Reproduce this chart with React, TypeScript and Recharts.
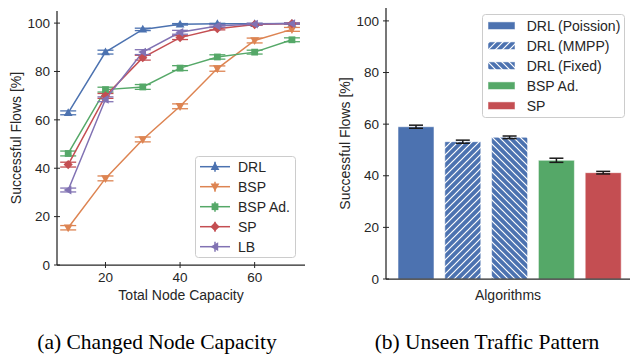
import React from 'react';
import {
  LineChart, Line, XAxis, YAxis, ErrorBar, Legend, BarChart, Bar, Cell,
} from 'recharts';

// ---------- Data: (a) Changed Node Capacity ----------
const capacities = [10, 20, 30, 40, 50, 60, 70];
const drl = [62.9, 88.0, 97.4, 99.5, 99.7, 99.7, 99.8];
const drlErr = [0.8, 0.8, 0.5, 0.3, 0.2, 0.2, 0.2];
const bsp = [15.4, 35.8, 51.9, 65.6, 81.2, 92.8, 97.4];
const bspErr = [0.9, 1.0, 1.0, 1.0, 1.1, 1.0, 0.8];
const bspAd = [46.1, 72.5, 73.6, 81.4, 86.0, 88.0, 93.1];
const bspAdErr = [1.0, 1.0, 1.0, 1.0, 0.9, 0.8, 0.8];
const sp = [41.5, 69.9, 85.7, 94.0, 97.7, 99.4, 99.8];
const spErr = [1.0, 1.0, 1.0, 0.8, 0.5, 0.3, 0.2];
const lb = [31.0, 68.5, 88.0, 96.2, 98.8, 99.6, 99.8];
const lbErr = [0.8, 1.0, 1.0, 0.8, 0.5, 0.3, 0.2];
const xTicks = [20, 40, 60];
const yTicks = [0, 20, 40, 60, 80, 100];

// ---------- Data: (b) Unseen Traffic Pattern ----------
const algorithms = ['DRL (Poission)', 'DRL (MMPP)', 'DRL (Fixed)', 'BSP Ad.', 'SP'];
const algoValues = [59.0, 53.2, 54.9, 46.0, 41.2];
const algoErrors = [0.6, 0.6, 0.5, 0.8, 0.5];

const C_BLUE = '#4C72B0';
const C_ORANGE = '#DD8452';
const C_GREEN = '#55A868';
const C_RED = '#C44E52';
const C_PURPLE = '#8172B3';
const AXIS = '#262626';
const FONT = '"Liberation Sans", Arial, sans-serif';
const FS = 14;
const TFS = 13.5;

type Shape = 'up' | 'down' | 'square' | 'diamond' | 'left';

const lineSeries: { key: string; name: string; color: string; shape: Shape; values: number[]; errs: number[] }[] = [
  { key: 'drl', name: 'DRL', color: C_BLUE, shape: 'up', values: drl, errs: drlErr },
  { key: 'bsp', name: 'BSP', color: C_ORANGE, shape: 'down', values: bsp, errs: bspErr },
  { key: 'bspAd', name: 'BSP Ad.', color: C_GREEN, shape: 'square', values: bspAd, errs: bspAdErr },
  { key: 'sp', name: 'SP', color: C_RED, shape: 'diamond', values: sp, errs: spErr },
  { key: 'lb', name: 'LB', color: C_PURPLE, shape: 'left', values: lb, errs: lbErr },
];

const lineData = capacities.map((c, i) => {
  const row: Record<string, number> = { cap: c };
  lineSeries.forEach((s) => {
    row[s.key] = s.values[i];
    row[s.key + 'Err'] = s.errs[i];
  });
  return row;
});

const barColors = [C_BLUE, 'url(#hatchMMPP)', 'url(#hatchFixed)', C_GREEN, C_RED];
const barData = algorithms.map((a, i) => ({ name: a, value: algoValues[i], err: algoErrors[i] }));

// ---------- Helpers ----------
function Marker({ cx, cy, shape, color }: { cx: number; cy: number; shape: Shape; color: string }) {
  if (cx == null || cy == null || isNaN(cx) || isNaN(cy)) return null;
  switch (shape) {
    case 'up':
      return <polygon points={`${cx},${cy - 4.6} ${cx - 4.4},${cy + 3.2} ${cx + 4.4},${cy + 3.2}`} fill={color} />;
    case 'down':
      return <polygon points={`${cx},${cy + 4.6} ${cx - 4.4},${cy - 3.2} ${cx + 4.4},${cy - 3.2}`} fill={color} />;
    case 'square':
      return <rect x={cx - 3.4} y={cy - 3.4} width={6.8} height={6.8} fill={color} />;
    case 'diamond':
      return <polygon points={`${cx},${cy - 4.6} ${cx + 4.6},${cy} ${cx},${cy + 4.6} ${cx - 4.6},${cy}`} fill={color} />;
    case 'left':
      return <polygon points={`${cx - 4.6},${cy} ${cx + 3.2},${cy - 4.4} ${cx + 3.2},${cy + 4.4}`} fill={color} />;
  }
  return null;
}

const TS = 3;
const TM = 4;

function LeftTick(props: any) {
  const { x, y, payload } = props;
  const ax = x + TS + TM;
  return (
    <g>
      <line x1={ax - TS} x2={ax + TS} y1={y} y2={y} stroke={AXIS} strokeWidth={1} />
      <text x={x} y={y} dy="0.35em" textAnchor="end" fontSize={TFS} fill={AXIS} fontFamily={FONT}>{payload.value}</text>
    </g>
  );
}
function BottomTick(props: any) {
  const { x, y, payload } = props;
  const ay = y - TS - TM;
  return (
    <g>
      <line x1={x} x2={x} y1={ay - TS} y2={ay + TS} stroke={AXIS} strokeWidth={1} />
      <text x={x} y={y} dy="0.71em" textAnchor="middle" fontSize={TFS} fill={AXIS} fontFamily={FONT}>{payload.value}</text>
    </g>
  );
}
function TopTick(props: any) {
  const { x, y } = props;
  const ay = y + TS + TM;
  return <line x1={x} x2={x} y1={ay - TS} y2={ay + TS} stroke={AXIS} strokeWidth={1} />;
}
function RightTick(props: any) {
  const { x, y } = props;
  const ax = x - TS - TM;
  return <line x1={ax - TS} x2={ax + TS} y1={y} y2={y} stroke={AXIS} strokeWidth={1} />;
}

function YTitle(props: any) {
  const vb = props.viewBox || {};
  const x = (vb.x ?? 0) - 1;
  const y = (vb.y ?? 0) + (vb.height ?? 0) / 2;
  return (
    <text
      x={x}
      y={y}
      transform={`rotate(-90 ${x} ${y})`}
      textAnchor="middle"
      dominantBaseline="central"
      fontSize={FS}
      fill={AXIS}
      fontFamily={FONT}
    >
      Successful Flows [%]
    </text>
  );
}

const axisLine = { stroke: AXIS, strokeWidth: 1.25 };

function LineLegend() {
  return (
    <svg width={101} height={102} style={{ display: 'block' }}>
      <rect x={0.5} y={0.5} width={100} height={101} rx={3} fill="rgba(255,255,255,0.85)" stroke="#cccccc" strokeWidth={1} />
      {lineSeries.map((s, i) => {
        const cy = 10.7 + 20 * i;
        return (
          <g key={s.key}>
            <line x1={5} x2={35} y1={cy} y2={cy} stroke={s.color} strokeWidth={1.5} />
            <line x1={20} x2={20} y1={cy - 5} y2={cy + 5} stroke={s.color} strokeWidth={1.5} />
            <Marker cx={20} cy={cy} shape={s.shape} color={s.color} />
            <text x={43} y={cy} dy="0.35em" fontSize={FS} fill={AXIS} fontFamily={FONT}>{s.name}</text>
          </g>
        );
      })}
    </svg>
  );
}

function BarLegend() {
  return (
    <svg width={143} height={104} style={{ display: 'block' }}>
      <defs>
        <pattern id="hatchMMPPL" patternUnits="userSpaceOnUse" width={7} height={7}>
          <rect width={7} height={7} fill={C_BLUE} />
          <path d="M0,7 L7,0 M-1,1 L1,-1 M6,8 L8,6" stroke="#ffffff" strokeWidth={1.2} />
        </pattern>
        <pattern id="hatchFixedL" patternUnits="userSpaceOnUse" width={7} height={7}>
          <rect width={7} height={7} fill={C_BLUE} />
          <path d="M0,0 L7,7 M-1,6 L1,8 M6,-1 L8,1" stroke="#ffffff" strokeWidth={1.2} />
        </pattern>
      </defs>
      <rect x={0.5} y={0.5} width={142} height={103} rx={3} fill="rgba(255,255,255,0.85)" stroke="#cccccc" strokeWidth={1} />
      {algorithms.map((a, i) => {
        const cy = 11.7 + 20 * i;
        const fill = i === 1 ? 'url(#hatchMMPPL)' : i === 2 ? 'url(#hatchFixedL)' : barColors[i];
        return (
          <g key={a}>
            <rect x={6} y={cy - 3.8} width={27} height={7.6} fill={fill} stroke="rgba(255,255,255,0.5)" strokeWidth={1} />
            <text x={44.7} y={cy} dy="0.35em" fontSize={FS} fill={AXIS} fontFamily={FONT}>{a}</text>
          </g>
        );
      })}
    </svg>
  );
}

export default function App() {
  return (
    <div style={{ position: 'absolute', left: 0, top: 0, width: 631, height: 356, overflow: 'hidden', background: '#fff', fontFamily: FONT }}>
      {/* (a) */}
      <div style={{ position: 'absolute', left: 0, top: 0 }}>
        <LineChart width={320} height={320} data={lineData} margin={{ top: 11, right: 15, bottom: 15, left: 17 }}>
          <XAxis
            dataKey="cap"
            type="number"
            domain={[7, 73.5]}
            ticks={xTicks}
            allowDataOverflow
            height={40}
            tickSize={TS}
            tickMargin={TM}
            tickLine={false}
            tick={BottomTick}
            axisLine={axisLine}
            label={{ value: 'Total Node Capacity', position: 'insideBottom', offset: 5.5, fontSize: FS, fill: AXIS, fontFamily: FONT }}
          />
          <XAxis
            xAxisId="top"
            orientation="top"
            dataKey="cap"
            type="number"
            domain={[7, 73.5]}
            ticks={xTicks}
            allowDataOverflow
            height={0}
            tickSize={TS}
            tickMargin={TM}
            tickLine={false}
            tick={TopTick}
            axisLine={axisLine}
          />
          <YAxis
            type="number"
            domain={[0, 105]}
            ticks={yTicks}
            allowDataOverflow
            width={40}
            tickSize={TS}
            tickMargin={TM}
            tickLine={false}
            tick={LeftTick}
            axisLine={axisLine}
            label={{ content: YTitle }}
          />
          <YAxis
            yAxisId="right"
            orientation="right"
            type="number"
            domain={[0, 105]}
            ticks={yTicks}
            allowDataOverflow
            width={0}
            tickSize={TS}
            tickMargin={TM}
            tickLine={false}
            tick={RightTick}
            axisLine={axisLine}
          />
          {lineSeries.map((s) => (
            <Line
              key={s.key}
              dataKey={s.key}
              name={s.name}
              type="linear"
              stroke={s.color}
              strokeWidth={1.5}
              isAnimationActive={false}
              activeDot={false}
              dot={(p: any) => <Marker key={`${s.key}-${p.index}`} cx={p.cx} cy={p.cy} shape={s.shape} color={s.color} />}
            >
              <ErrorBar dataKey={s.key + 'Err'} width={8} stroke={s.color} strokeWidth={1.3} direction="y" isAnimationActive={false} />
            </Line>
          ))}
          <Legend
            layout="horizontal"
            verticalAlign="middle"
            align="center"
            content={() => <LineLegend />}
            wrapperStyle={{ position: 'absolute', left: 195, top: 156, width: 101, height: 102 }}
          />
        </LineChart>
      </div>

      {/* (b) */}
      <div style={{ position: 'absolute', left: 320, top: 0 }}>
        <BarChart width={320} height={320} data={barData} margin={{ top: 8, right: 10, bottom: 13, left: 26 }}>
          <defs>
            <pattern id="hatchMMPP" patternUnits="userSpaceOnUse" width={7} height={7}>
              <rect width={7} height={7} fill={C_BLUE} />
              <path d="M0,7 L7,0 M-1,1 L1,-1 M6,8 L8,6" stroke="#ffffff" strokeWidth={1.2} />
            </pattern>
            <pattern id="hatchFixed" patternUnits="userSpaceOnUse" width={7} height={7}>
              <rect width={7} height={7} fill={C_BLUE} />
              <path d="M0,0 L7,7 M-1,6 L1,8 M6,-1 L8,1" stroke="#ffffff" strokeWidth={1.2} />
            </pattern>
          </defs>
          <XAxis
            dataKey="name"
            type="category"
            padding={{ left: 7, right: 3 }}
            height={28}
            tick={false}
            tickLine={false}
            axisLine={axisLine}
            label={{ value: 'Algorithms', position: 'insideBottom', offset: 7.5, fontSize: FS, fill: AXIS, fontFamily: FONT }}
          />
          <XAxis
            xAxisId="top"
            orientation="top"
            dataKey="name"
            type="category"
            padding={{ left: 7, right: 3 }}
            height={0}
            tick={false}
            tickLine={false}
            axisLine={axisLine}
          />
          <YAxis
            type="number"
            domain={[0, 105]}
            ticks={yTicks}
            allowDataOverflow
            width={40}
            tickSize={TS}
            tickMargin={TM}
            tickLine={false}
            tick={LeftTick}
            axisLine={axisLine}
            label={{ content: YTitle }}
          />
          <YAxis
            yAxisId="right"
            orientation="right"
            type="number"
            domain={[0, 105]}
            ticks={yTicks}
            allowDataOverflow
            width={0}
            tickSize={TS}
            tickMargin={TM}
            tickLine={false}
            tick={RightTick}
            axisLine={axisLine}
          />
          <Bar dataKey="value" barSize={36} isAnimationActive={false} stroke="rgba(255,255,255,0.55)" strokeWidth={1}>
            {barData.map((d, i) => (
              <Cell key={d.name} fill={barColors[i]} />
            ))}
            <ErrorBar dataKey="err" width={7} stroke="#1a1a1a" strokeWidth={1.5} direction="y" isAnimationActive={false} />
          </Bar>
          <Legend
            layout="horizontal"
            verticalAlign="middle"
            align="center"
            content={() => <BarLegend />}
            wrapperStyle={{ position: 'absolute', left: 162, top: 14, width: 143, height: 104 }}
          />
        </BarChart>
      </div>

      {/* captions */}
      <svg width={631} height={356} style={{ position: 'absolute', left: 0, top: 0, pointerEvents: 'none' }}>
        <text x={157} y={349} textAnchor="middle" fontSize={21.5} fill="#000" fontFamily='"Liberation Serif", "Times New Roman", serif'>
          (a) Changed Node Capacity
        </text>
        <text x={487} y={349} textAnchor="middle" fontSize={21.5} fill="#000" fontFamily='"Liberation Serif", "Times New Roman", serif'>
          (b) Unseen Traffic Pattern
        </text>
      </svg>
    </div>
  );
}
